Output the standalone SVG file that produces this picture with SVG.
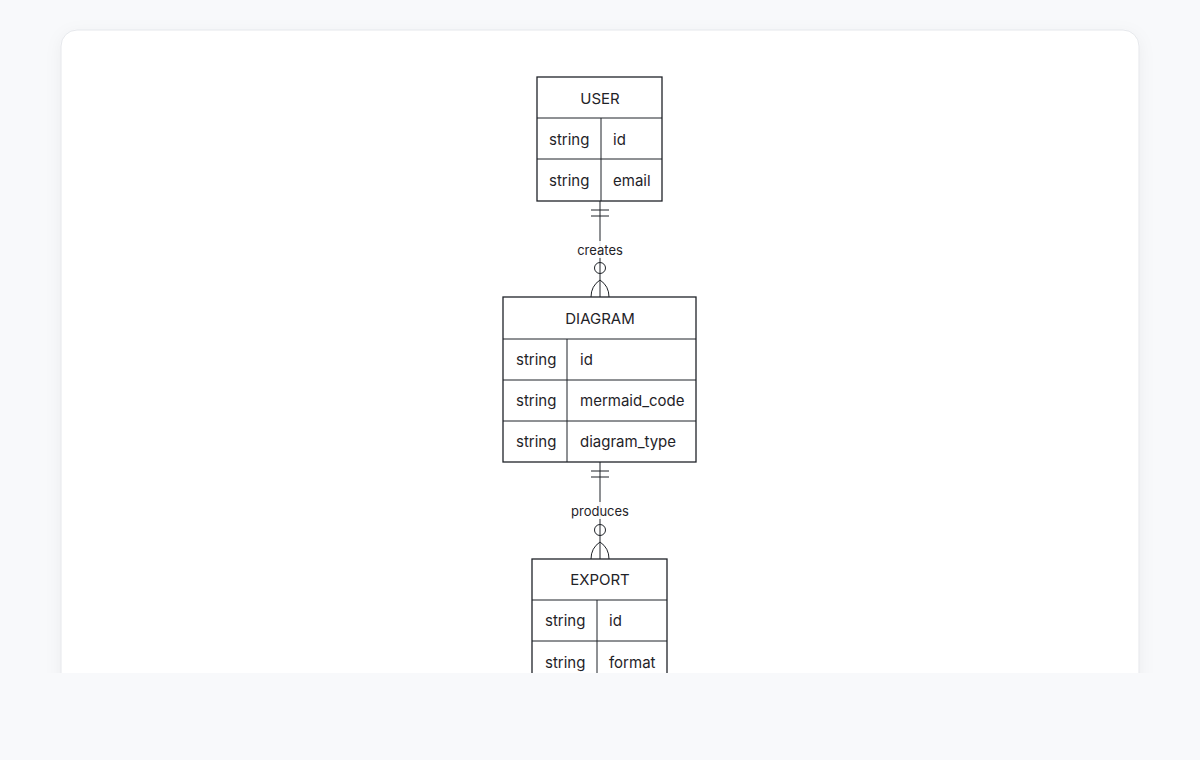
<svg xmlns="http://www.w3.org/2000/svg" width="1200" height="760" viewBox="0 0 1200 760">
<style>
.box{fill:#fff;stroke:#1f2328;stroke-width:1.3}
.ln{stroke:#1f2328;stroke-width:1;fill:none}
.t{font-family:Inter,"Liberation Sans",sans-serif;font-size:15px;fill:#1f2328}
.c{text-anchor:middle}
.lb{font-family:Inter,"Liberation Sans",sans-serif;font-size:13px;fill:#1f2328;text-anchor:middle}
</style>
<defs><filter id="sh" x="-5%" y="-5%" width="110%" height="110%"><feDropShadow dx="0" dy="4" stdDeviation="8" flood-color="#000" flood-opacity="0.05"/></filter></defs>
<rect width="1200" height="760" fill="#f8f9fb"/>
<rect x="61" y="30" width="1078" height="700" rx="16" fill="#fff" stroke="#e5e7eb" filter="url(#sh)"/>
<g id="connectors">
<line class="ln" x1="600" y1="201" x2="600" y2="297"/>
<line class="ln" x1="591" y1="210" x2="609" y2="210"/>
<line class="ln" x1="591" y1="216" x2="609" y2="216"/>
<rect x="575" y="241" width="50" height="17" fill="#fff" opacity="0.9"/>
<text class="lb" x="600" y="255">creates</text>
<circle class="ln" cx="600" cy="268" r="5.5" fill="#fff"/>
<path class="ln" d="M591 297 Q591 286 600 280 Q609 286 609 297"/>
<line class="ln" x1="600" y1="462" x2="600" y2="559"/>
<line class="ln" x1="591" y1="471" x2="609" y2="471"/>
<line class="ln" x1="591" y1="477" x2="609" y2="477"/>
<rect x="569" y="502" width="62" height="17" fill="#fff" opacity="0.9"/>
<text class="lb" x="600" y="516">produces</text>
<circle class="ln" cx="600" cy="530" r="5.5" fill="#fff"/>
<path class="ln" d="M591 559 Q591 548 600 542 Q609 548 609 559"/>
</g>
<g id="user">
<rect class="box" x="537" y="77" width="125" height="124"/>
<line class="ln" x1="537" y1="118" x2="662" y2="118"/>
<line class="ln" x1="537" y1="159" x2="662" y2="159"/>
<line class="ln" x1="601" y1="118" x2="601" y2="201"/>
<text class="t c" x="600" y="104">USER</text>
<text class="t" x="549" y="145">string</text><text class="t" x="613" y="145">id</text>
<text class="t" x="549" y="186">string</text><text class="t" x="613" y="186">email</text>
</g>
<g id="diagram">
<rect class="box" x="503" y="297" width="193" height="165"/>
<line class="ln" x1="503" y1="339" x2="696" y2="339"/>
<line class="ln" x1="503" y1="380" x2="696" y2="380"/>
<line class="ln" x1="503" y1="421" x2="696" y2="421"/>
<line class="ln" x1="567" y1="339" x2="567" y2="462"/>
<text class="t c" x="600" y="324">DIAGRAM</text>
<text class="t" x="516" y="365">string</text><text class="t" x="580" y="365">id</text>
<text class="t" x="516" y="406">string</text><text class="t" x="580" y="406">mermaid_code</text>
<text class="t" x="516" y="447">string</text><text class="t" x="580" y="447">diagram_type</text>
</g>
<g id="export">
<rect class="box" x="532" y="559" width="135" height="124"/>
<line class="ln" x1="532" y1="600" x2="667" y2="600"/>
<line class="ln" x1="532" y1="641" x2="667" y2="641"/>
<line class="ln" x1="597" y1="600" x2="597" y2="683"/>
<text class="t c" x="600" y="585">EXPORT</text>
<text class="t" x="545" y="626">string</text><text class="t" x="609" y="626">id</text>
<text class="t" x="545" y="668">string</text><text class="t" x="609" y="668">format</text>
</g>
<rect x="0" y="673" width="1200" height="87" fill="#f8f9fb"/>
</svg>
